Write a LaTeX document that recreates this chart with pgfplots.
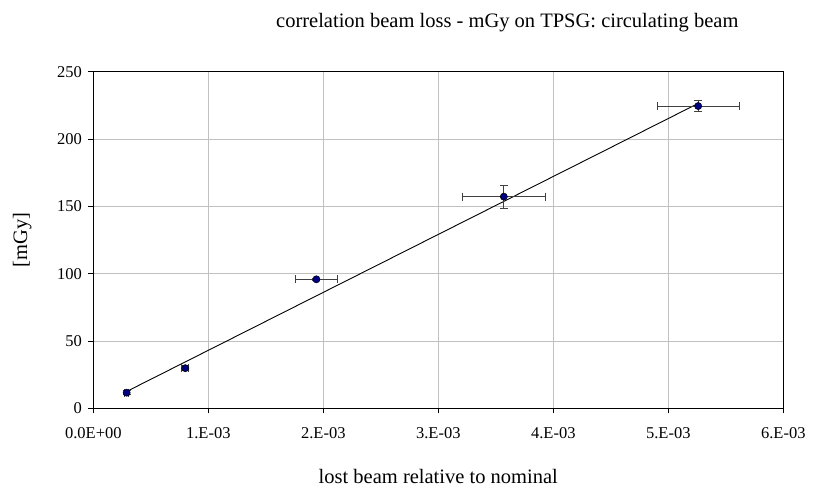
\documentclass[border=0pt]{standalone}
\usepackage{fontspec}
\setmainfont{Liberation Serif}
\usepackage{pgfplots}
\pgfplotsset{compat=1.18}
\definecolor{gridgray}{RGB}{192,192,192}
\definecolor{navyblue}{RGB}{0,0,128}
\begin{document}
\begin{tikzpicture}
\path[use as bounding box] (-93.3pt,-79.7pt) rectangle (731.7pt,408.3pt);
\begin{axis}[
  at={(0pt,0pt)}, anchor=south west,
  scale only axis, width=690pt, height=336.6pt,
  xmin=0, xmax=0.006, ymin=0, ymax=250,
  xtick={0,0.001,0.002,0.003,0.004,0.005,0.006},
  xticklabels={0.0E+00,1.E-03,2.E-03,3.E-03,4.E-03,5.E-03,6.E-03},
  scaled x ticks=false,
  ytick={0,50,100,150,200,250},
  /pgf/number format/assume math mode=true,
  grid=major,
  major grid style={gridgray, line width=0.9pt},
  tick align=outside, tick pos=left,
  major tick length=5pt,
  tick style={black, line width=0.8pt},
  axis line style={black, line width=0.8pt},
  ticklabel style={font=\fontsize{16.5}{19}\selectfont},
  xticklabel style={yshift=-11pt},
  yticklabel style={xshift=-3pt},
  title={correlation beam loss - mGy on TPSG: circulating beam},
  title style={font=\fontsize{20.5}{24}\selectfont, at={(rel axis cs:0.6,1)}, anchor=base, yshift=38pt},
  xlabel={lost beam relative to nominal},
  xlabel style={font=\fontsize{20.5}{24}\selectfont, at={(rel axis cs:0.5,0)}, anchor=base, yshift=-75pt},
  ylabel={[mGy]},
  ylabel style={font=\fontsize{20.5}{24}\selectfont, at={(rel axis cs:0,0.5)}, anchor=center, rotate=0, yshift=71pt},
  clip=false,
]
% fitted trend line
\addplot[black, line width=0.9pt, no marks] coordinates {(0.00029,12.5) (0.00525,226)};
% data with error bars
\addplot[only marks, mark=*, mark size=3.6pt,
  mark options={fill=navyblue, draw=black, line width=0.5pt},
  error bars/.cd,
    x dir=both, x explicit,
    y dir=both, y explicit,
    error bar style={black!75, line width=0.9pt},
    error mark options={black!75, line width=0.9pt, mark size=4pt, rotate=90},
] coordinates {
  (0.00029,11.6) +- (0.00002,1.5)
  (0.00080,29.8) +- (0.00003,2)
  (0.00194,95.8) +- (0.000185,1)
  (0.00357,157.2) +- (0.00036,8.5)
  (0.00526,224.5) +- (0.000355,4)
};
\draw[black, line width=1.6pt] (rel axis cs:0,0) -- (rel axis cs:1,0);
\end{axis}
\end{tikzpicture}
\end{document}
